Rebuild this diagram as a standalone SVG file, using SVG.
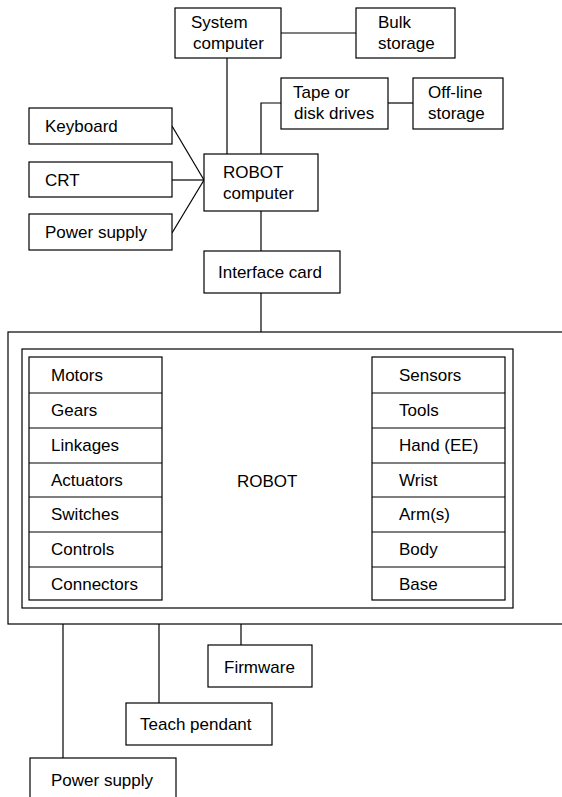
<svg xmlns="http://www.w3.org/2000/svg" width="562" height="797" viewBox="0 0 562 797">
<style>
rect{fill:#fff;stroke:#000;stroke-width:1.2}
line,polyline{stroke:#000;stroke-width:1.2;fill:none}
text{font-family:"Liberation Sans",Arial,sans-serif;font-size:17px;fill:#000}
</style>
<rect x="0" y="0" width="562" height="797" style="stroke:none"/>
<g id="connectors">
<line x1="281" y1="33" x2="356" y2="33"/>
<line x1="227" y1="58" x2="227" y2="154"/>
<polyline points="261,154 261,103 281,103"/>
<line x1="388" y1="103" x2="413" y2="103"/>
<line x1="172" y1="126" x2="204" y2="180"/>
<line x1="172" y1="180" x2="204" y2="180"/>
<line x1="172" y1="233" x2="204" y2="180"/>
<line x1="261" y1="211" x2="261" y2="251"/>
<line x1="261" y1="293" x2="261" y2="332"/>
<line x1="63" y1="624" x2="63" y2="758"/>
<line x1="159" y1="624" x2="159" y2="703"/>
<line x1="241" y1="624" x2="241" y2="645"/>
</g>
<g id="system-computer"><rect x="175" y="8" width="106" height="50"/><text x="191" y="28">System</text><text x="193" y="49">computer</text></g>
<g id="bulk-storage"><rect x="356" y="8" width="99" height="50"/><text x="378" y="28">Bulk</text><text x="378" y="49">storage</text></g>
<g id="tape-disk"><rect x="281" y="78" width="107" height="51"/><text x="293" y="98">Tape or</text><text x="294" y="119">disk drives</text></g>
<g id="offline-storage"><rect x="413" y="78" width="90" height="51"/><text x="428" y="98">Off-line</text><text x="428" y="119">storage</text></g>
<g id="keyboard"><rect x="29" y="108" width="143" height="36"/><text x="45" y="132">Keyboard</text></g>
<g id="crt"><rect x="29" y="162" width="143" height="35"/><text x="45" y="186">CRT</text></g>
<g id="power-supply-top"><rect x="29" y="214" width="143" height="36"/><text x="45" y="238">Power supply</text></g>
<g id="robot-computer"><rect x="204" y="154" width="114" height="57"/><text x="223" y="178">ROBOT</text><text x="223" y="199">computer</text></g>
<g id="interface-card"><rect x="204" y="251" width="136" height="42"/><text x="218" y="278">Interface card</text></g>
<g id="robot">
<rect x="8" y="332" width="570" height="292"/>
<rect x="22" y="349" width="491" height="259"/>
<text x="237" y="487">ROBOT</text>
</g>
<g id="left-list">
<rect x="29" y="357" width="133" height="243"/>
<line x1="29" y1="393" x2="162" y2="393"/>
<line x1="29" y1="428" x2="162" y2="428"/>
<line x1="29" y1="463" x2="162" y2="463"/>
<line x1="29" y1="497" x2="162" y2="497"/>
<line x1="29" y1="532" x2="162" y2="532"/>
<line x1="29" y1="567" x2="162" y2="567"/>
<text x="51" y="381">Motors</text>
<text x="51" y="416">Gears</text>
<text x="51" y="451">Linkages</text>
<text x="51" y="486">Actuators</text>
<text x="51" y="520">Switches</text>
<text x="51" y="555">Controls</text>
<text x="51" y="590">Connectors</text>
</g>
<g id="right-list">
<rect x="372" y="357" width="133" height="243"/>
<line x1="372" y1="393" x2="505" y2="393"/>
<line x1="372" y1="428" x2="505" y2="428"/>
<line x1="372" y1="463" x2="505" y2="463"/>
<line x1="372" y1="497" x2="505" y2="497"/>
<line x1="372" y1="532" x2="505" y2="532"/>
<line x1="372" y1="567" x2="505" y2="567"/>
<text x="399" y="381">Sensors</text>
<text x="399" y="416">Tools</text>
<text x="399" y="451">Hand (EE)</text>
<text x="399" y="486">Wrist</text>
<text x="399" y="520">Arm(s)</text>
<text x="399" y="555">Body</text>
<text x="399" y="590">Base</text>
</g>
<g id="firmware"><rect x="208" y="645" width="104" height="42"/><text x="224" y="673">Firmware</text></g>
<g id="teach-pendant"><rect x="126" y="703" width="146" height="42"/><text x="140" y="730">Teach pendant</text></g>
<g id="power-supply-bottom"><rect x="30" y="758" width="146" height="50"/><text x="51" y="786">Power supply</text></g>
</svg>
